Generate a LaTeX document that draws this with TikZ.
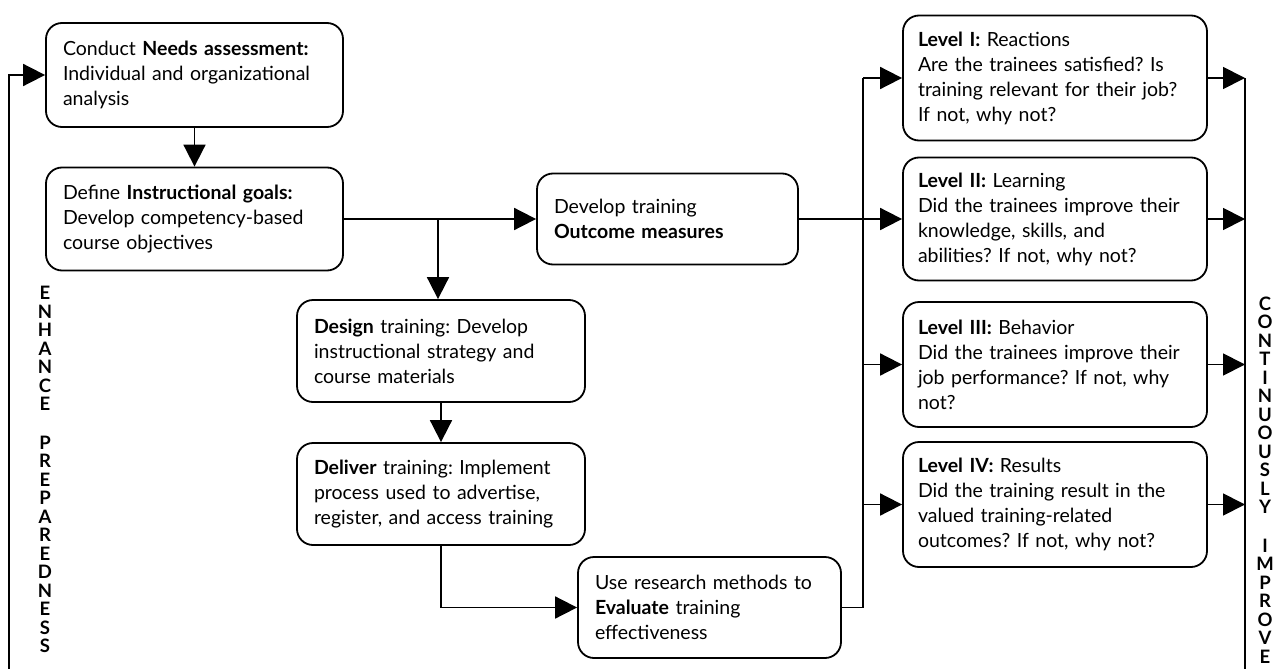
\documentclass[tikz,border=0pt]{standalone}
\usepackage{fontspec}
\setmainfont{Lato}
\usepackage{tikz}
\usetikzlibrary{arrows.meta, positioning, calc}
\frenchspacing

\begin{document}
\begin{tikzpicture}[
  x=1pt, y=-1pt,
  stepbox/.style={draw, rounded corners=16pt, line width=1.8pt, align=left,
    inner xsep=17pt, inner ysep=4pt, font=\fontsize{19.5pt}{25pt}\selectfont},
  levelbox/.style={stepbox, inner xsep=15pt, text width=274pt, minimum height=125pt},
  arr/.style={-{Triangle[length=22pt, width=22pt]}, line width=1.8pt},
  ln/.style={line width=1.8pt},
  lbl/.style={align=center, inner sep=0pt, font=\fontsize{18.5pt}{18.5pt}\selectfont\bfseries}
]
  \useasboundingbox (0,0) rectangle (1274,669);

  % --- Left column: plan the training ---
  \node[stepbox, text width=263pt, minimum height=104pt] (needs) at (194.5, 75)
    {Conduct \textbf{Needs assessment:}\\Individual and organizational\\analysis};
  \node[stepbox, text width=263pt, minimum height=103pt] (goals) at (194.5, 219)
    {Define \textbf{Instructional goals:}\\Develop competency-based\\course objectives};
  \node[stepbox, text width=227pt, minimum height=91pt] (outcome) at (667.5, 219)
    {Develop training\\\textbf{Outcome measures}};
  \node[stepbox, text width=254pt, minimum height=102pt] (design) at (441, 351)
    {\textbf{Design} training: Develop\\instructional strategy and\\course materials};
  \node[stepbox, text width=254pt, minimum height=102pt] (deliver) at (441, 494)
    {\textbf{Deliver} training: Implement\\process used to advertise,\\register, and access training};
  \node[stepbox, text width=229pt, minimum height=101pt] (evaluate) at (709.5, 607.5)
    {Use research methods to\\\textbf{Evaluate} training\\effectiveness};

  % --- Right column: the four levels ---
  \node[levelbox] (lvlI) at (1055, 78)
    {\textbf{Level I:} Reactions\\Are the trainees satisfied? Is\\training relevant for their job?\\If not, why not?};
  \node[levelbox, minimum height=123pt] (lvlII) at (1055, 219)
    {\textbf{Level II:} Learning\\Did the trainees improve their\\knowledge, skills, and\\abilities? If not, why not?};
  \node[levelbox] (lvlIII) at (1055, 364.5)
    {\textbf{Level III:} Behavior\\Did the trainees improve their\\job performance? If not, why\\not?};
  \node[levelbox] (lvlIV) at (1055, 504.5)
    {\textbf{Level IV:} Results\\Did the training result in the\\valued training-related\\outcomes? If not, why not?};

  % --- Side labels ---
  \node[lbl] (enhance) at (45, 469.5)
    {E\\N\\H\\A\\N\\C\\E\\\strut\\P\\R\\E\\P\\A\\R\\E\\D\\N\\E\\S\\S};
  \node[lbl] (improve) at (1265, 480)
    {C\\O\\N\\T\\I\\N\\U\\O\\U\\S\\L\\Y\\\strut\\I\\M\\P\\R\\O\\V\\E};

  % --- Bus coordinates ---
  \coordinate (loopin) at (9, 669);
  \coordinate (split) at (438, 219);
  \coordinate (lbus) at (863, 78);
  \coordinate (rbus) at (1245, 78);
  \coordinate (rend) at (1245, 669);

  % --- Connectors ---
  \draw[arr] (loopin) |- (needs.west);
  \draw[arr] (needs.south) -- (goals.north);
  \draw[arr] (goals.east) -- (outcome.west);
  \draw[arr] (split) -- (split |- design.north);
  \draw[arr] (design.south) -- (deliver.north);
  \draw[arr] (deliver.south) |- (evaluate.west);
  \draw[ln] (evaluate.east) -| (lbus);
  \draw[arr] (lbus) -- (lvlI.west);
  \draw[arr] (outcome.east) -- (lvlII.west);
  \draw[arr] (lbus |- lvlIII.west) -- (lvlIII.west);
  \draw[arr] (lbus |- lvlIV.west) -- (lvlIV.west);
  \draw[ln] (rbus) -- (rend);
  \foreach \lv in {lvlI, lvlII, lvlIII, lvlIV}
    \draw[arr] (\lv.east) -- (\lv.east -| rbus);
\end{tikzpicture}
\end{document}
